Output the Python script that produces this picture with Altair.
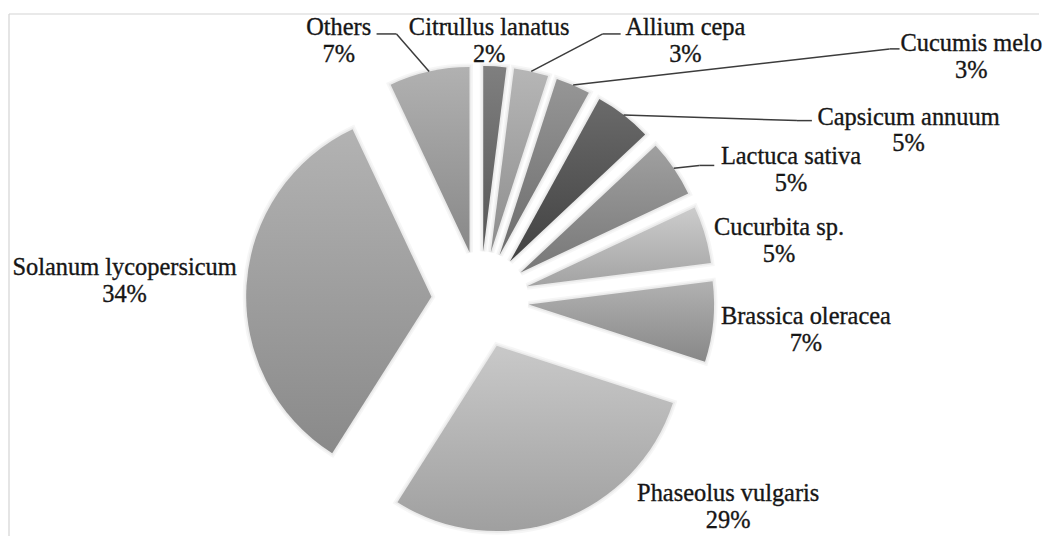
import math
import altair as alt
import pandas as pd

# ---- data ----
names = ["Citrullus lanatus", "Allium cepa", "Cucumis melo", "Capsicum annuum",
         "Lactuca sativa", "Cucurbita sp.", "Brassica oleracea", "Phaseolus vulgaris",
         "Solanum lycopersicum", "Others"]
shares = [2, 3, 3, 5, 5, 5, 7, 29, 34, 7]
greys = ["#676767", "#a8a8a8", "#828282", "#4e4e4e", "#8e8e8e",
         "#c2c2c2", "#a2a2a2", "#bebebe", "#a4a4a4", "#a2a2a2"]

# ---- label layout (page pixels): centre of first label line ----
label_x = [491, 688, 975, 912, 794, 782, 809, 731, 125, 340]
label_y = [27, 27, 43, 117, 157, 228, 317, 495, 268, 27]
# leader lines: elbow point and end of horizontal stub (None = no leader)
elbow_x = [None, 605, 893, 800, 702, None, None, None, None, 398]
elbow_y = [None, 33, 48, 120, 165, None, None, None, None, 33]
stub_x = [None, 623, 903, 815, 717, None, None, None, None, 378]

# ---- pie geometry ----
CX, CY, R, EXPLODE = 482, 300, 186, 49
W, H = 1035, 521

df = pd.DataFrame({
    "order": list(range(len(names))),
    "name": names,
    "share": shares,
    "lab_x": label_x,
    "lab_y": label_y,
    "ex": elbow_x,
    "ey": elbow_y,
    "stx": stub_x,
})

xs = alt.Scale(domain=[8, 8 + W], range=[0, W], zero=False, nice=False)
ys = alt.Scale(domain=[8, 8 + H], range=[0, H], zero=False, nice=False)

base = alt.Chart(df).transform_window(
    cum="sum(share)", sort=[alt.SortField("order", order="ascending")], frame=[None, 0]
).transform_calculate(
    start="datum.cum - datum.share",
    mid="(datum.cum - datum.share / 2) / 100 * 2 * PI",
    pct="datum.share + '%'",
).transform_calculate(
    cx=f"{CX} + {EXPLODE} * sin(datum.mid)",
    cy=f"{CY} - {EXPLODE} * cos(datum.mid)",
).transform_calculate(
    sx=f"datum.cx + {R} * sin(datum.mid)",
    sy=f"datum.cy - {R} * cos(datum.mid)",
)

theta_scale = alt.Scale(domain=[0, 100], range=[0, 2 * math.pi], zero=False, nice=False)

arc_enc = dict(
    x=alt.X("cx:Q", scale=xs, axis=None),
    y=alt.Y("cy:Q", scale=ys, axis=None),
    theta=alt.Theta("start:Q", scale=theta_scale, stack=False),
    theta2=alt.Theta2("cum:Q"),
)

# soft shadow halo under the slices
halo_wide = base.mark_arc(radius=R, fill="#ffffff", stroke="#000000",
                          strokeOpacity=0.035, strokeWidth=7).encode(**arc_enc)
halo_narrow = base.mark_arc(radius=R, fill="#ffffff", stroke="#000000",
                            strokeOpacity=0.045, strokeWidth=3.5).encode(**arc_enc)

arcs = base.mark_arc(radius=R).encode(
    color=alt.Color("name:N", scale=alt.Scale(domain=names, range=greys), legend=None),
    **arc_enc,
)

shade = base.mark_arc(
    radius=R,
    fill={"gradient": "linear", "x1": 0, "y1": 0, "x2": 0, "y2": 1,
          "stops": [{"offset": 0, "color": "#ffffff"}, {"offset": 1, "color": "#000000"}]},
    fillOpacity=0.16,
).encode(**arc_enc)

leaders = base.transform_filter("isValid(datum.ex)").mark_rule(
    color="#3c3c3c", strokeWidth=1.5
).encode(
    x=alt.X("sx:Q", scale=xs, axis=None),
    y=alt.Y("sy:Q", scale=ys, axis=None),
    x2="ex:Q",
    y2="ey:Q",
)

stubs = base.transform_filter("isValid(datum.ex)").mark_rule(
    color="#3c3c3c", strokeWidth=1.5
).encode(
    x=alt.X("ex:Q", scale=xs, axis=None),
    y=alt.Y("ey:Q", scale=ys, axis=None),
    x2="stx:Q",
)

txt_style = dict(font="Liberation Serif", fontSize=24.5, color="#161616",
                 stroke="#161616", strokeWidth=0.35,
                 align="center", baseline="middle")

name_txt = base.mark_text(**txt_style).encode(
    x=alt.X("lab_x:Q", scale=xs, axis=None),
    y=alt.Y("lab_y:Q", scale=ys, axis=None),
    text="name:N",
)
pct_txt = base.mark_text(dy=27, **txt_style).encode(
    x=alt.X("lab_x:Q", scale=xs, axis=None),
    y=alt.Y("lab_y:Q", scale=ys, axis=None),
    text="pct:N",
)

frame_src = alt.Chart(pd.DataFrame({"k": [0]}))
frame_top = frame_src.mark_rule(color="#d4d4d4", strokeWidth=1.2).encode(
    x=alt.value(1), x2=alt.value(W), y=alt.value(5)
)
frame_left = frame_src.mark_rule(color="#d4d4d4", strokeWidth=1.2).encode(
    x=alt.value(1), y=alt.value(5), y2=alt.value(H + 8)
)

chart = alt.layer(
    frame_top, frame_left, halo_wide, halo_narrow, arcs, shade,
    leaders, stubs, name_txt, pct_txt
).properties(width=W, height=H, padding=0).configure_view(stroke=None)

chart.save("out.html", embed_options={"renderer": "svg", "actions": False})
